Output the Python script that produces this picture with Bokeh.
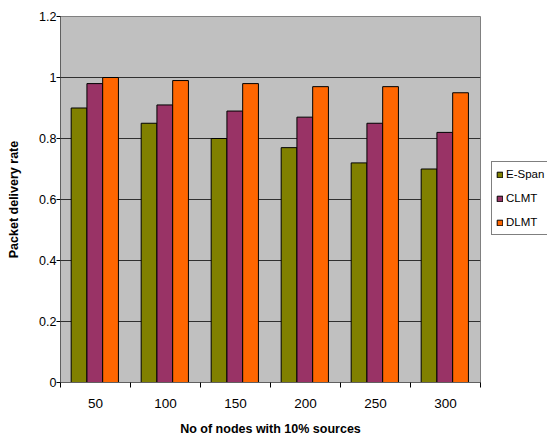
from bokeh.plotting import figure
from bokeh.models import (ColumnDataSource, Range1d, FixedTicker, CustomJSTickFormatter,
                          Legend, LegendItem)
from bokeh.embed import file_html
from bokeh.resources import INLINE

categories = ["50", "100", "150", "200", "250", "300"]
e_span = [0.90, 0.85, 0.80, 0.77, 0.72, 0.70]
clmt = [0.98, 0.91, 0.89, 0.87, 0.85, 0.82]
dlmt = [1.00, 0.99, 0.98, 0.97, 0.97, 0.95]
series_names = ["E-Span", "CLMT", "DLMT"]
y_ticks = [0, 0.2, 0.4, 0.6, 0.8, 1.0, 1.2]
colors = ["#808000", "#993366", "#FF6600"]

FONT = "Liberation Sans"

p = figure(frame_width=420, frame_height=366, x_range=Range1d(0, 6), y_range=Range1d(0, 1.2),
           output_backend="svg", toolbar_location=None,
           min_border_left=60, min_border_top=16, min_border_right=67, min_border_bottom=57)
p.background_fill_color = "#C0C0C0"
p.border_fill_color = "white"
p.outline_line_color = "#808080"

bar_w = 0.225
items = []
for k, (name, vals) in enumerate(zip(series_names, [e_span, clmt, dlmt])):
    xs = [i + 0.49 + (k - 1) * bar_w for i in range(len(categories))]
    src = ColumnDataSource(dict(x=xs, top=vals))
    r = p.vbar(x="x", top="top", width=bar_w, source=src, fill_color=colors[k],
               line_color="#000000", line_width=1)
    items.append(LegendItem(label=name, renderers=[r]))

# grid
p.xgrid.visible = False
p.ygrid.ticker = FixedTicker(ticks=y_ticks)
p.ygrid.grid_line_color = "#303030"
p.ygrid.grid_line_width = 1

# x axis
xa = p.xaxis[0]
xa.ticker = FixedTicker(ticks=[i + 0.5 for i in range(len(categories))],
                        minor_ticks=list(range(len(categories) + 1)))
xa.major_label_overrides = {i + 0.5: c for i, c in enumerate(categories)}
xa.major_tick_out = 0
xa.major_tick_in = 0
xa.minor_tick_out = 5
xa.minor_tick_in = 0
xa.minor_tick_line_color = "#000000"
xa.axis_line_color = "#606060"
xa.major_label_text_font = FONT
xa.major_label_text_font_size = "13.5px"
xa.major_label_text_color = "#000000"
xa.major_label_standoff = 11
xa.axis_label = "No of nodes with 10% sources"
xa.axis_label_text_font = FONT
xa.axis_label_text_font_size = "12.5px"
xa.axis_label_text_font_style = "bold"
xa.axis_label_text_color = "#000000"
xa.axis_label_standoff = 11

# y axis
ya = p.yaxis[0]
ya.ticker = FixedTicker(ticks=y_ticks)
ya.formatter = CustomJSTickFormatter(code="return String(Number(tick.toFixed(1)));")
ya.major_tick_out = 4
ya.major_tick_in = 0
ya.minor_tick_out = 0
ya.minor_tick_in = 0
ya.major_tick_line_color = "#000000"
ya.axis_line_color = "#606060"
ya.major_label_text_font = FONT
ya.major_label_text_font_size = "12.5px"
ya.major_label_text_color = "#000000"
ya.major_label_standoff = 0
ya.axis_label = "Packet delivery rate"
ya.axis_label_text_font = FONT
ya.axis_label_text_font_size = "12.5px"
ya.axis_label_text_font_style = "bold"
ya.axis_label_text_color = "#000000"
ya.axis_label_standoff = 15

legend = Legend(items=items, location=(11, 147))
legend.border_line_color = "#000000"
legend.border_line_width = 1
legend.background_fill_color = "white"
legend.background_fill_alpha = 1
legend.padding = 4
legend.spacing = 8
legend.margin = 0
legend.label_height = 16
legend.glyph_height = 7
legend.glyph_width = 7
legend.label_standoff = 3
legend.label_text_font = FONT
legend.label_text_font_size = "11.5px"
legend.label_text_color = "#000000"
p.add_layout(legend, "right")

open("out.html", "w").write(file_html(p, INLINE))
